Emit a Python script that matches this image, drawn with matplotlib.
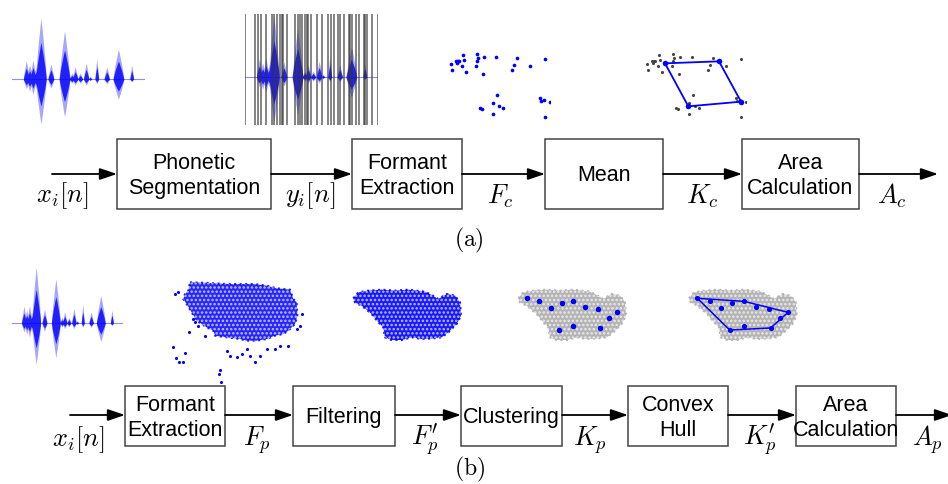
import numpy as np
import matplotlib
matplotlib.use('Agg')
import matplotlib.pyplot as plt
from matplotlib.patches import Rectangle, FancyArrowPatch, Polygon

plt.rcParams['mathtext.fontset'] = 'cm'
plt.rcParams['font.family'] = ['Liberation Sans', 'DejaVu Sans']
plt.rcParams['hatch.linewidth'] = 1.2

# ---------------- data ----------------
# speech waveform: bursts (normalised time, half width, upper / lower amplitude)
burst_t = [0.1075, 0.1325, 0.1575, 0.1825, 0.2175, 0.2925, 0.395, 0.45, 0.475,
           0.5125, 0.5575, 0.5875, 0.6375, 0.7125, 0.80, 0.90]
burst_w = [0.022, 0.022, 0.022, 0.022, 0.040, 0.022, 0.040, 0.018, 0.020,
           0.018, 0.020, 0.010, 0.014, 0.020, 0.040, 0.014]
burst_up = [0.30, 0.23, 0.31, 0.20, 1.00, 0.25, 0.79, 0.10, 0.20,
            0.10, 0.26, 0.05, 0.33, 0.20, 0.49, 0.23]
burst_dn = [0.16, 0.20, 0.25, 0.16, 0.74, 0.15, 0.62, 0.07, 0.10,
            0.07, 0.10, 0.03, 0.08, 0.08, 0.33, 0.05]

# phonetic segmentation boundaries (normalised time)
seg_t = [0.0, 0.075, 0.095, 0.121, 0.156, 0.201, 0.219, 0.239, 0.264, 0.276,
         0.284, 0.319, 0.377, 0.397, 0.410, 0.427, 0.452, 0.465, 0.477, 0.497,
         0.540, 0.578, 0.621, 0.648, 0.666, 0.696, 0.716, 0.741, 0.779, 0.791,
         0.804, 0.834, 0.854, 0.892, 0.905, 0.917, 0.955, 1.0]

# per-phoneme formant points F_c (F2-like x, F1-like y, picture units)
fc_x = [92, 97, 108, 110, 113, 118, 125, 130, 133, 137, 167, 170, 172, 175, 190,
        192, 228, 232, 220, 238, 250, 180, 185, 218, 276, 282, 290, 330, 376, 360,
        362, 372, 390, 398, 376]
fc_y = [105, 123, 95, 103, 97, 95, 110, 78, 93, 128, 112, 75, 95, 87, 135,
        83, 85, 197, 222, 232, 236, 238, 241, 254, 124, 108, 88, 110, 91, 208,
        216, 212, 220, 187, 265]
# vowel means K_c (quadrilateral corners)
kc_x = [147, 309, 375, 217]
kc_y = [103, 97, 218, 232]

# raw frame-level formant cloud F_p (outline) and its stray points
raw_x = [90, 150, 200, 240, 280, 320, 350, 390, 400, 410, 412, 405, 385, 370, 345,
         320, 290, 260, 240, 200, 165, 160, 140, 110, 95, 80, 70, 75, 85]
raw_y = [40, 42, 45, 45, 45, 50, 58, 62, 90, 100, 140, 165, 185, 195, 200,
         210, 215, 215, 210, 205, 200, 185, 175, 155, 130, 105, 90, 75, 65]
raw_out_x = [45, 55, 40, 48, 58, 68, 75, 88, 135, 180, 176, 183, 200, 210, 230,
             245, 260, 270, 285, 300, 320, 345, 360, 385, 410, 420, 425, 105, 100, 115]
raw_out_y = [75, 68, 235, 268, 278, 278, 252, 190, 200, 302, 315, 338, 245, 260, 265,
             255, 240, 262, 278, 262, 240, 240, 230, 232, 180, 170, 135, 160, 150, 170]

# filtered cloud F'_p (outline)
filt_x = [115, 130, 160, 200, 240, 280, 330, 350, 370, 395, 420, 435, 438, 425, 400,
          380, 355, 320, 290, 260, 230, 210, 205, 190, 170, 140, 120]
filt_y = [118, 100, 95, 92, 95, 92, 98, 108, 120, 105, 110, 130, 170, 195, 220,
          235, 238, 240, 235, 243, 243, 235, 205, 190, 165, 140, 130]

# cluster centres K_p and convex hull K'_p
kp_x = [140, 177, 212, 245, 280, 315, 355, 412, 388, 360, 280, 237]
kp_y = [118, 127, 146, 132, 127, 144, 151, 160, 178, 207, 200, 213]
hull_idx = [0, 4, 7, 9, 11]

# block diagrams
blocks_a = ["Phonetic\nSegmentation", "Formant\nExtraction", "Mean", "Area\nCalculation"]
signals_a = [r"$x_i[n]$", r"$y_i[n]$", r"$F_c$", r"$K_c$", r"$A_c$"]
blocks_b = ["Formant\nExtraction", "Filtering", "Clustering", "Convex\nHull", "Area\nCalculation"]
signals_b = [r"$x_i[n]$", r"$F_p$", r"$F_p^{\prime}$", r"$K_p$", r"$K_p^{\prime}$", r"$A_p$"]

# ---------------- figure ----------------
W, H = 948, 485
fig = plt.figure(figsize=(W / 100, H / 100), dpi=100)
ax = fig.add_axes([0, 0, 1, 1])
ax.set_xlim(0, W)
ax.set_ylim(H, 0)
ax.axis('off')


def inset(x0, y0, w, h):
    a = fig.add_axes([x0 / W, 1 - (y0 + h) / H, w / W, h / H])
    a.axis('off')
    return a


def envelope(t, amps):
    env = np.zeros_like(t)
    for c, w, a in zip(burst_t, burst_w, amps):
        u = np.clip(1 - np.abs(t - c) / w, 0, None)
        env = np.maximum(env, a * u ** 0.8)
    return env


def draw_wave(x0, x1, ybase, scale, segs=False):
    a = inset(x0, ybase - 1.1 * scale, x1 - x0, 2.2 * scale)
    a.set_xlim(0, 1)
    a.set_ylim(-1.1, 1.1)
    t = np.linspace(0, 1, 1200)
    up = envelope(t, burst_up)
    dn = envelope(t, burst_dn)
    a.plot([0, 1], [0, 0], color='blue', lw=0.8, alpha=0.45)
    a.fill_between(t, -dn, up, color='blue', alpha=0.35, lw=0)
    a.fill_between(t, -0.6 * dn, 0.6 * up, color='blue', alpha=0.8, lw=0)
    if segs:
        a.vlines(seg_t, -0.79, 1.03, color='#333333', lw=1.2, alpha=0.7)
    return a


draw_wave(12, 145, 80, 61)
draw_wave(245, 378, 78, 61, segs=True)
draw_wave(12, 123, 324, 56)

# formant scatter (a)
a = inset(420, 30, 130, 100)
a.set_xlim(0, 390); a.set_ylim(300, 0)
a.scatter(fc_x, fc_y, s=7, color='blue', lw=0)
a = inset(420 + 196, 30, 130, 100)
a.set_xlim(0, 390); a.set_ylim(300, 0)
a.scatter(fc_x, fc_y, s=5, color='#444444', lw=0)
a.plot(kc_x + kc_x[:1], kc_y + kc_y[:1], color='blue', lw=1.3)
a.scatter(kc_x, kc_y, s=16, color='blue', lw=0, zorder=3)


def cloud(a, xs, ys, color, alpha):
    pts = np.c_[xs, ys]
    a.add_patch(Polygon(pts, closed=True, facecolor=color, alpha=alpha,
                        edgecolor=color, lw=1.5, ls=':'))
    a.add_patch(Polygon(pts, closed=True, facecolor='none', edgecolor='white',
                        hatch='....', lw=0, alpha=0.7))


# clouds (b)
a = inset(160, 270, 160, 120)
a.set_xlim(0, 480); a.set_ylim(360, 0)
cloud(a, raw_x, raw_y, 'blue', 0.85)
a.scatter(raw_out_x, raw_out_y, s=5, color='blue', lw=0)

a = inset(480 - 165, 260, 156, 100)
a.set_xlim(0, 468); a.set_ylim(300, 0)
cloud(a, filt_x, filt_y, 'blue', 0.9)

a = inset(480, 260, 156, 100)
a.set_xlim(0, 468); a.set_ylim(300, 0)
cloud(a, filt_x, filt_y, '#b4b4b4', 1.0)
a.scatter(kp_x, kp_y, s=16, color='blue', lw=0, zorder=3)

a = inset(480 + 170.7, 260, 156, 100)
a.set_xlim(0, 468); a.set_ylim(300, 0)
cloud(a, filt_x, filt_y, '#b4b4b4', 1.0)
hx = [kp_x[i] for i in hull_idx] + [kp_x[hull_idx[0]]]
hy = [kp_y[i] for i in hull_idx] + [kp_y[hull_idx[0]]]
a.plot(hx, hy, color='blue', lw=1.1, zorder=2)
a.scatter(kp_x, kp_y, s=14, color='blue', lw=0, zorder=3)


# ---------------- block diagrams ----------------
def arrow(x0, x1, y):
    ax.add_patch(FancyArrowPatch((x0, y), (x1, y),
                                 arrowstyle='-|>,head_length=0.65,head_width=0.22',
                                 mutation_scale=16, color='black', lw=1.3,
                                 shrinkA=0, shrinkB=0))


def box(x0, x1, y0, y1, text):
    ax.add_patch(Rectangle((x0, y0), x1 - x0, y1 - y0, fill=False, edgecolor='#444444', lw=1.1))
    ax.text((x0 + x1) / 2, (y0 + y1) / 2 + 1, text, ha='center', va='center', fontsize=15.5,
            linespacing=1.25)


# (a)
ya, ta, ba = 175, 140, 210
box_a = [(117, 271), (352, 462), (545, 663), (742, 859)]
arr_a = [(52, 117), (271, 352), (462, 545), (663, 742), (859, 938)]
lab_a = [62, 310, 500, 702, 892]
for (x0, x1), t in zip(box_a, blocks_a):
    box(x0, x1, ta, ba, t)
for x0, x1 in arr_a:
    arrow(x0, x1, ya)
for x, s in zip(lab_a, signals_a):
    ax.text(x, 196, s, ha='center', va='center', fontsize=19)
ax.text(469, 240, r"$\mathrm{(a)}$", ha='center', va='center', fontsize=17)

# (b)
yb, tb, bb = 416, 387, 447
box_b = [(125, 225), (293, 395), (461, 562), (628, 728), (796, 896)]
arr_b = [(70, 125), (225, 293), (395, 461), (562, 628), (728, 796), (896, 952)]
lab_b = [78, 257, 425, 590, 760, 927]
for (x0, x1), t in zip(box_b, blocks_b):
    box(x0, x1, tb, bb, t)
for x0, x1 in arr_b:
    arrow(x0, x1, yb)
for x, s in zip(lab_b, signals_b):
    ax.text(x, 440, s, ha='center', va='center', fontsize=19)
ax.text(470, 469, r"$\mathrm{(b)}$", ha='center', va='center', fontsize=17)

fig.savefig('out.png', dpi=100)
